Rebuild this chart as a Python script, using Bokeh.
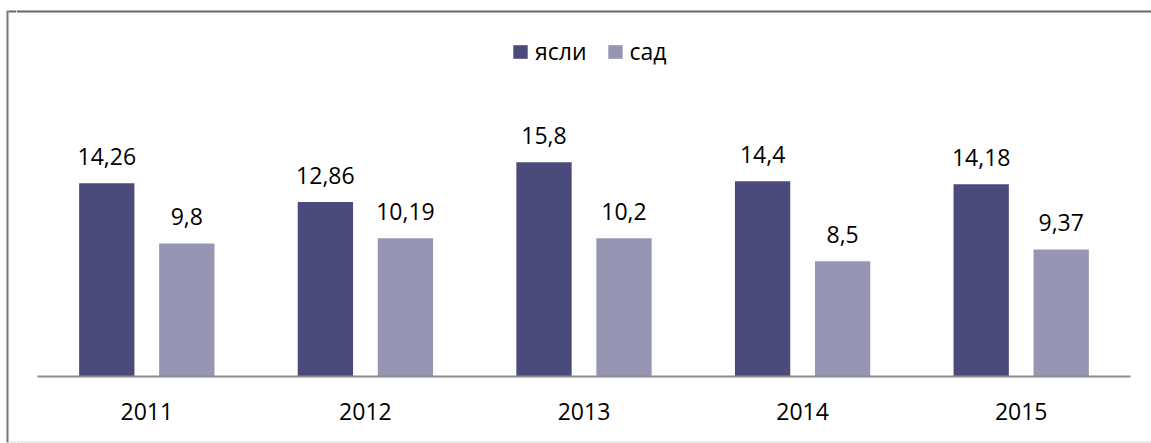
from bokeh.plotting import figure
from bokeh.layouts import row
from bokeh.models import (FactorRange, Range1d, CategoricalAxis, BoxAnnotation,
                          Legend, LegendItem, ColumnDataSource)
from bokeh.transform import dodge
from bokeh.core.properties import value
from bokeh.embed import file_html
from bokeh.resources import INLINE

# ---- data ----
years = ["2011", "2012", "2013", "2014", "2015"]
yasli = [14.26, 12.86, 15.8, 14.4, 14.18]
sad = [9.8, 10.19, 10.2, 8.5, 9.37]
series_names = ["ясли", "сад"]
colors = ["#4b4b7b", "#9696b4"]

# ---- layout constants ----
W_TOTAL, H = 1151, 443
W_EDGE = 16                 # narrow strip holding the left border line
W = W_TOTAL - W_EDGE        # main chart width
PX = 13.56                  # pixels per unit
ZERO = 376                  # canvas y of the zero line
CAT_PX = 218.6              # pixels per category
pad_units = (W - len(years) * CAT_PX) / 2 / CAT_PX
y_start = -(H - ZERO) / PX
y_end = ZERO / PX
FONT = "Open Sans"
FS = "23px"
TOP_C, LEFT_C, BOT_C = "#666666", "#777777", "#d9d9d9"

def fmt(v):
    return ("%g" % v).replace(".", ",")

def sy(px):   # canvas y pixel -> data y coordinate
    return (ZERO - px) / PX

def bare_fig(**kw):
    f = figure(height=H, output_backend="svg", toolbar_location=None,
               x_axis_location=None, y_axis_location=None,
               min_border=0, min_border_left=0, min_border_right=0,
               min_border_top=0, min_border_bottom=0, **kw)
    f.grid.visible = False
    f.outline_line_color = None
    f.background_fill_color = "white"
    f.border_fill_color = "white"
    return f

src = ColumnDataSource(dict(
    years=years, yasli=yasli, sad=sad,
    yasli_lbl=[fmt(v) for v in yasli], sad_lbl=[fmt(v) for v in sad],
))

# ---- left strip with the chart's left border ----
edge = bare_fig(width=W_EDGE, x_range=Range1d(0, W_EDGE), y_range=Range1d(H, 0))
edge.add_layout(BoxAnnotation(left=6, right=8, top=10, bottom=442,
                              fill_color=LEFT_C, fill_alpha=1, line_color=None))
edge.add_layout(BoxAnnotation(left=8, right=W_EDGE, top=10, bottom=12,
                              fill_color=TOP_C, fill_alpha=1, line_color=None))
edge.add_layout(BoxAnnotation(left=8, right=W_EDGE, top=441, bottom=442,
                              fill_color=BOT_C, fill_alpha=1, line_color=None))

# ---- main chart ----
p = bare_fig(width=W,
             x_range=FactorRange(factors=years, range_padding=pad_units,
                                 range_padding_units="absolute"),
             y_range=Range1d(y_start, y_end))

OFF, BW = 0.183, 0.253
r1 = p.vbar(x=dodge("years", -OFF, range=p.x_range), top="yasli", width=BW,
            source=src, fill_color=colors[0], line_color=None)
r2 = p.vbar(x=dodge("years", OFF, range=p.x_range), top="sad", width=BW,
            source=src, fill_color=colors[1], line_color=None)

for off, col, lbl in [(-OFF, "yasli", "yasli_lbl"), (OFF, "sad", "sad_lbl")]:
    p.text(x=dodge("years", off, range=p.x_range), y=col, text=lbl, source=src,
           text_align="center", text_baseline="middle", y_offset=-27,
           text_font=value(FONT), text_font_size=FS, text_color="#000000")

ax = CategoricalAxis(fixed_location=0, bounds=(0, len(years)),
                     axis_line_color="#8c8c8c", axis_line_width=2,
                     major_tick_line_color=None, minor_tick_line_color=None,
                     major_tick_out=0, major_tick_in=0,
                     major_label_standoff=26,
                     major_label_text_font=FONT,
                     major_label_text_font_size=FS,
                     major_label_text_color="#000000")
p.add_layout(ax, "below")

# top and bottom border lines of the chart box
p.add_layout(BoxAnnotation(top=sy(10), bottom=sy(12),
                           fill_color=TOP_C, fill_alpha=1, line_color=None))
p.add_layout(BoxAnnotation(top=sy(441), bottom=sy(442),
                           fill_color=BOT_C, fill_alpha=1, line_color=None))

legend = Legend(items=[LegendItem(label=series_names[0], renderers=[r1]),
                       LegendItem(label=series_names[1], renderers=[r2])],
                orientation="horizontal", location=(495, 376),
                label_text_font=FONT, label_text_font_size=FS,
                label_text_color="#000000",
                glyph_width=18, glyph_height=17, label_standoff=6,
                spacing=19, padding=0, margin=0,
                border_line_color=None, background_fill_alpha=0)
p.add_layout(legend)

layout = row(edge, p, spacing=0)
open("out.html", "w").write(file_html(layout, INLINE))
